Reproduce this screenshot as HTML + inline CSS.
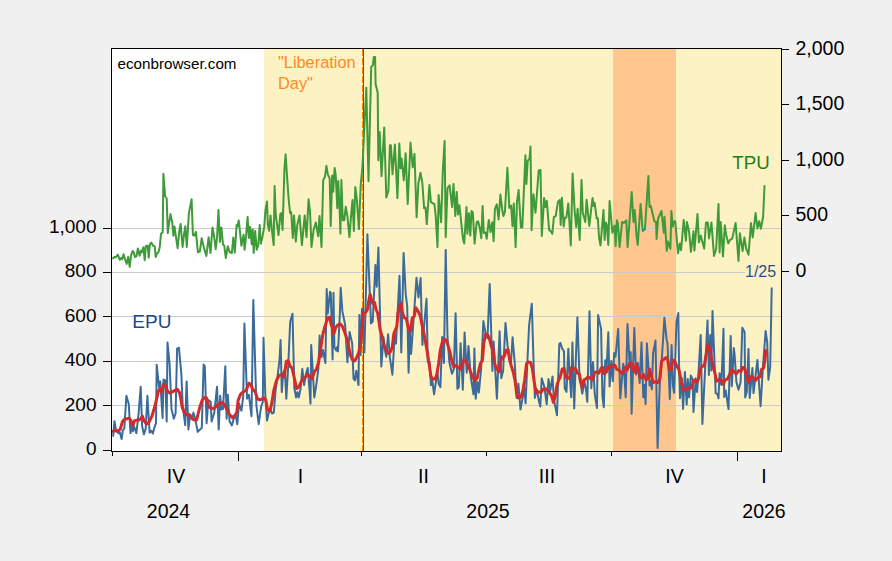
<!DOCTYPE html>
<html><head><meta charset="utf-8"><title>EPU and TPU</title>
<style>
html,body{margin:0;padding:0;background:#f0f0f0;}
body{width:892px;height:561px;overflow:hidden;}
svg{display:block;}
text{font-family:"Liberation Sans",Arial,sans-serif;}
.ax{font-size:19px;fill:#000;}
</style></head><body>
<svg width="892" height="561" viewBox="0 0 892 561">
<rect x="0" y="0" width="892" height="561" fill="#f0f0f0"/>
<rect x="111" y="48" width="671" height="404" fill="#ffffff"/>
<rect x="264" y="49" width="517" height="402" fill="#fdf2c4"/>
<rect x="613" y="49" width="63" height="402" fill="#ffc68e"/>
<g stroke="#cacaca" stroke-width="1" shape-rendering="crispEdges">
<line x1="112" x2="781" y1="228.5" y2="228.5"/>
<line x1="112" x2="745" y1="272.5" y2="272.5"/>
<line x1="112" x2="781" y1="316.5" y2="316.5"/>
<line x1="112" x2="781" y1="361.5" y2="361.5"/>
<line x1="112" x2="781" y1="405.5" y2="405.5"/>
</g>
<line x1="362.5" x2="362.5" y1="49" y2="451" stroke="#ff8a00" stroke-width="1" stroke-dasharray="7 2" shape-rendering="crispEdges"/>
<line x1="363.5" x2="363.5" y1="49" y2="451" stroke="#d8171b" stroke-width="1" shape-rendering="crispEdges"/>
<polyline fill="none" stroke="#3b6b9b" stroke-width="2" stroke-linejoin="round" stroke-linecap="round" points="113.2,435.8 114.5,421.2 116.2,431.3 118.6,433.1 119.8,432.2 121.6,439 122.8,430.4 124.3,428.6 126.4,395.7 128.7,403.7 130.5,433.1 131.7,422.4 132.8,431.3 134.1,426.5 136.4,433.1 138.5,414.4 140.7,386.8 142.1,426 143.9,434.4 145.7,428.6 147.4,395.7 149.6,432.6 151.4,430.8 152.8,433.6 154.6,426.9 156,423.3 156.7,364.8 159,386.8 160.3,381.4 161.3,398.3 162.6,418 163.5,379.6 165.3,380.5 166.7,421.5 167.5,342.4 169.6,363.8 171.5,409 173.8,418.8 175.6,413.5 177.1,348.6 178.9,347.7 181.3,373.4 182.7,405.5 185.2,425.1 186.6,381.4 188.4,429.5 190.2,414.4 192,418.8 193.4,412.6 195.6,420.6 197.7,431.9 200,429.5 201.8,427.8 203.6,364.5 204.8,366.3 206.6,423.3 208.4,400.1 210.7,401.9 211.6,421.5 214.3,412.6 217,386.8 218.7,429.5 220.2,395.7 221.2,409.4 223,409 225.3,366.3 226.6,418.8 227.8,394.8 229.6,421.5 231.9,425.4 233.7,418.8 235.5,414.4 237.3,424.2 239.1,403.7 241.4,410.8 243.2,396.6 244.4,323.5 247.1,398.7 248.9,394.8 251.5,416.2 253.3,299.9 256.4,405.5 258.7,424.2 261,407.3 262.8,401.9 263.5,337.7 265.3,394.8 267,420.6 268.8,412.6 270.6,409.9 272,413.5 273.8,412.6 275.6,390.3 277.7,375.2 279.5,360 280.6,339.9 281.8,392.1 283.1,373.4 284.9,369.8 286.3,398.7 288.1,368 290.2,321.7 292.5,313.7 294.3,387.7 296.1,397.5 297.4,392.1 298.8,397.5 300.6,388.5 302.3,368.9 304.1,385 305.9,374.3 307.7,368 309.5,389.4 310.5,403.7 311.2,344.9 314.3,397.5 316.6,382.7 318.4,368.4 319.6,335.5 321.5,357 323,350 325.4,363 326.7,289 327.8,313.6 330,291.8 330.8,293.1 332.6,359.5 333.5,292.7 334.4,347 336.2,350.6 337.1,347 338,351.5 339.8,315 340.7,287.7 342.4,311.4 345.1,324.8 347.4,362.2 349.6,331.9 352.2,343.5 353.5,378.7 354.9,380.5 356.3,370.7 358.5,385 359.4,315 360.6,355.1 362,308.7 364.4,352.4 367.4,234.2 371,323.4 372.7,321.6 375.4,265.1 376.7,286.8 378.4,247.6 381.3,366.6 383.5,337.2 385.3,352.4 386.3,356.8 388.1,334.2 389.9,357.7 392.4,374.7 394.7,334.6 396,343.5 399.5,275.8 401.3,352.4 403.6,252.9 405.7,293.8 407.2,306.4 408.6,372.8 409.9,327.9 411.1,353.9 413.5,320.8 416.5,277.7 418.5,297.4 420.6,278 422.4,345 426.5,298.8 427.8,362 429.6,362 430.9,385.3 432.3,380.9 434.1,394.3 435.9,381.7 437.3,371 438.6,383.5 440.4,387.1 442.2,336.9 443.9,362.9 445.7,249.9 447.5,336.9 449.3,362 452,373.7 453.8,369.2 455.6,313.2 457.4,388.9 458.8,387.1 460.6,343.2 462.8,389.8 464.6,332.4 466.7,372.8 468.5,345.9 470.9,378.2 473.5,394.3 474.4,348.6 475.7,398.8 477.5,381.7 478.9,392.5 481.1,369.2 483.4,321.1 485.7,334.2 487.5,338.3 489.7,283.9 492.4,371 493.6,341.4 496.9,398.8 499.6,331.2 501.3,378.2 503.1,371 505.5,322.9 507.6,345.9 509.8,362 510.9,363.8 512.6,337.3 514.8,363.8 516.6,397.9 518.4,383.5 520.5,409.6 522.9,396.1 523.8,383.5 525.6,403.3 527.7,354.8 529.1,325.2 531.8,303.7 533.6,363.8 534.9,397.9 536.7,388.9 539,401.5 540.3,406.6 541.7,378.2 544.4,387.1 546.7,404.2 548.5,379.1 550.3,390.7 552.5,376.4 553.9,399.7 557,415.2 559.3,344.1 560.4,342.9 562.2,348.6 564,351.3 564.7,388.3 566.5,391.9 568.3,348.7 569.4,371 571.2,397.3 572.4,342.4 574.2,408.4 576,354.8 577.4,317.3 579.6,380 580.9,385.3 582.3,393.7 584.4,381.7 585.9,388.9 587.3,401.8 589.5,311.3 591.3,388.3 593,362 594.8,394.6 597,408 598.1,314.9 601.1,328.9 602.4,396.4 603.8,407.2 605.2,360.2 606.5,371.9 608.3,332.2 609.6,386.5 611.3,361.1 612.8,381.1 614.2,353 615.5,356.6 618.2,328.9 620.3,398.2 623.2,363.8 624.4,375.5 625.7,397.3 627.5,323.9 629.8,367.4 630.7,352.2 631.6,413.8 634.3,328 636.1,374.6 637.9,362.9 639.7,382.9 641.5,342.4 643.3,397.3 644.4,385 645.6,404.1 646.9,343.3 649.6,385.6 650.5,381 651.9,389.2 653.1,353 655.5,340.6 657.6,447.9 659.8,383.5 662.1,354.8 664.4,317.8 666.6,339.7 667.5,343.3 669.8,399 671.6,345.1 672.9,385.3 674.1,392.8 676.5,321.7 678.3,313.1 679.1,367.4 680,398.2 681.8,378.2 683.1,408.9 684.9,371.9 686.7,404.5 687.8,379.1 689,397.3 690.8,375.5 692.6,379.1 693.5,412 695.7,378.2 697.1,391.9 698.2,377.7 700.7,334.9 702.4,424 707.5,320.6 708.9,375 710.2,335 711.4,370.6 712.5,311.1 715.7,393.4 717.3,393.8 718.5,398.4 719.6,373.3 721.4,384.9 723.5,328.8 724.2,397 725.7,390.5 728.5,409.1 730.7,335.9 731.8,386.3 733.8,348.1 734.6,354.6 736.4,382 738.5,389.8 740.6,382 742.3,327.8 744.6,332 745.2,397.4 746.8,392 748.5,348.9 749.7,398 752.4,367.9 753.5,393.1 757.4,359.9 760.6,406.2 762.7,370.6 765.6,331 767.2,342.1 768.4,379.8 770.2,367 771.7,288.3"/>
<polyline fill="none" stroke="#3f9a3a" stroke-width="2" stroke-linejoin="round" stroke-linecap="round" points="113.1,258.3 114.4,257 115.7,257.3 117.8,254.5 119.8,259.8 121.3,258 122.2,259.3 123.6,254.3 125.1,259.3 126.7,263.9 128.2,256.8 129.7,266.8 131.1,255.1 132.6,251 133.6,252.2 134.9,257 136.4,256.4 137.9,248.5 139.6,255.8 140.8,250.7 141.6,252.6 143.4,247.2 144.7,260.2 145.8,246.3 147.7,245.7 148.7,257.6 149.9,244.2 151.4,242.6 152.9,245.5 154.7,246.3 155.7,257 157.2,253.2 158.5,252 159.7,247.6 161,233.8 162.7,232.2 163.4,173.8 165.1,196.2 166.7,198.5 167.8,233.2 169,223.7 170.5,214.1 172.3,223.1 173.4,235.7 174.5,226.6 175.8,235.7 177.6,248.2 179.3,231.3 180.6,224.1 182.6,247 184.1,233.8 185.3,226.3 186.8,247 188.9,213.1 191.6,199.3 192.9,235 194.4,235.7 195.9,231.9 197.9,252.2 199.9,251.4 201.7,238.2 203.9,247.6 206.4,256 208.6,237.2 210.5,253 212.5,227.5 214,235.7 215.7,249.2 217,238.2 218.5,209.9 219.9,241.9 221.4,227.5 223,244.5 224.3,245.7 225.8,258 227.8,246.3 229.6,252 231.8,253 233.3,237.6 234.8,252.6 236.6,225 237.6,226.3 238.7,220.4 240,231.9 241.4,245.7 243.6,234.7 244.6,249.7 246.1,235.7 247.6,217.1 248.9,237.9 250.1,226.9 251.7,244.2 252.7,229.4 253.7,253 255.2,230.9 256.7,249.7 258.2,245.5 259.7,225 260.9,243.8 262.7,235.7 264.2,226.9 265.5,209.9 267,201.5 267.8,224.6 269.1,230.9 270.5,215.4 272.3,233.6 273.7,245.1 274.6,186 275.8,215.7 278.5,235 280.3,214 281.2,213.1 282.6,230 284.4,169.4 285.6,154.2 287.1,177.4 288.7,199.7 290.1,213.1 291.2,212.2 292.8,238 294,215.4 295.8,241.6 297.2,225.5 299.5,215.4 301.9,245.1 304.7,215.4 306.5,237.1 308.6,199.3 310,211.3 311.5,246.9 313.6,230 315.8,222.5 318.2,236.2 319.5,216.1 321.5,246.9 323.2,180.1 325,176.5 326.4,165.8 327.9,174.7 329.7,178.3 330.7,226.1 332.2,175.6 333.2,191.7 334.6,168 335.7,174.7 337.3,208.2 338.2,181 339.6,208.6 340.4,233.6 341.4,180.1 342.8,220.2 344.3,220.2 345.7,206.8 347.5,216.6 349.4,237.1 351,216.6 352.5,200 353.9,230.9 355.3,186.9 356.9,199.7 358.9,229.1 360.7,185.4 362.5,165.8 366.3,87.8 368.5,181.3 371.2,66.9 372.9,65.2 373.8,57.1 375.1,57.1 375.6,83.9 377.7,92.8 378.3,160.3 379.7,132 381.5,176.3 384.2,127.5 386.3,197.4 388.4,190.6 389.9,145.2 390.9,145.2 392.5,174.2 394.9,144.6 397.4,198.1 399.3,143.4 400.6,168.3 401.6,158.5 403.8,180.3 405.6,153.2 407.7,204 410.5,142.5 412.7,167.4 414.5,154.1 416.6,217.3 418.4,183.5 420.5,172.8 422.3,182.6 424.1,208.1 425.5,207.5 426.8,224.1 429.4,184.9 430.9,202.2 432.6,203.1 434.4,204 435.7,216 437.5,247.1 438.6,194.9 441.1,222.2 442.8,171.4 444.6,141.1 445.7,237.3 447.5,188.3 449.6,185.3 452.1,207 453.5,183.9 455.3,216 456.7,191.9 458,214.5 459.4,205.3 461.2,222.2 463,239.1 464.2,243.6 466.5,207 467.4,233.8 468.9,213.3 470.3,235.6 471.5,211 472.8,212.4 474.6,243.6 476.7,222.2 478.1,221.3 479.9,228.4 481.3,238.2 482.6,206.1 483.8,232.9 485.6,232.4 486.7,238.8 488.8,219.9 490.6,232 492.4,222.2 493.6,241.3 494.9,208.8 496.8,204.4 498.6,219.5 500.4,194.6 502.2,209.7 503.4,216 504.9,212 507.4,167.8 509.3,207.9 511.1,205.6 512.5,226.3 513.8,203.5 515.6,247.1 517,201.7 518.6,190.1 520.9,227.5 522.3,227.5 525.4,155.3 526.4,183.9 527.7,160.7 529.5,158.9 530.5,146.6 531.6,230.2 533.4,194.2 535.5,212.7 538.7,170.5 540.5,170 541.8,235.9 544.1,198.1 545.5,207 546.8,200.8 549.1,229.9 551.2,231.6 552.3,233.8 553.9,216.8 555.7,216 558,201.7 559.8,199.9 560.7,224.9 561.9,197.8 563.7,226.6 564.8,217.7 566.4,217.4 568.3,203.5 570.8,245.4 572.6,173.5 574.7,212 576.2,227 577.6,208.8 579.7,240 581.5,179.9 582.8,213.1 585.3,222 586.6,199.8 589.3,226 592.5,198 593.7,206 594.6,202.8 596.7,218.5 597.8,218.1 599.1,238.1 600.5,245.6 603.5,209.9 604.6,239.9 605.7,222.4 606.7,224.7 608.3,244.9 609.6,201 612.4,232.7 614.6,225.6 615.6,246.1 616.9,220.3 617.8,222.9 619.6,247 622.1,222 624,222.9 626.3,220.3 627.6,247 631.7,192.1 633.5,222 634.7,209.9 636.5,235.4 637.7,244.9 640.6,203.9 642.7,231 644.9,229.5 648.4,176.1 649.5,206.9 650.8,206 654.3,221.1 656.1,222 656.6,239 658.1,218.5 661.5,211 663.8,232.7 664.5,216.7 666.8,250.9 668,241.6 670.4,248.8 671.4,211 672.7,226.5 673.9,221.7 675.2,221.1 678,253.2 679.8,243.4 681.1,250.2 683.7,219.9 685.9,240.8 686.9,222 689.1,231.8 690.9,252 693.5,231.3 694.4,250.6 697.5,214 698.9,242.5 700.7,235.4 704.2,248.8 706,222.4 707.8,222.4 709,238.4 711.4,222.4 712.3,233.6 714,255.9 716.2,248.8 718.5,203.9 719.6,252.4 720.7,222 723,256.5 724.8,225.3 726.2,235.1 728.3,243.4 730.1,239.9 732.2,238.6 735.6,223.1 738.5,260.9 739.9,233.3 742.6,251.1 744.4,237.4 746.1,248.4 748.5,254.7 751,223.1 752.7,237.4 755.6,213.1 757.4,228.5 759.2,221.3 760.9,228.8 763.1,216.7 764.5,186"/>
<polyline fill="none" stroke="#d32a2b" stroke-width="3" stroke-linejoin="round" stroke-linecap="round" points="112.7,431.3 115.3,430.4 118.6,430.8 120.3,429 122.5,421.5 124.3,419.4 126.9,418.8 129.3,418.3 131,420.6 132.8,426 134.6,420.6 136.7,420.1 138.9,420.1 140.7,418.8 142.4,416.2 143.9,420.6 146.5,424.2 149.2,421.9 151.9,416.2 154.6,407.3 156.7,398.7 158.5,390.9 159.9,388.5 161.7,392.1 163.5,384.4 165.6,385.9 167.9,392.1 170.2,393 172.7,391.6 175.1,390.3 177.4,389.4 179.5,392.6 180.9,399.2 182.2,407.6 184.5,412.6 186.6,414.7 188.8,414.4 191.1,417.6 193.4,419.7 196.5,420.1 198.2,413.5 200,406.4 202.3,400.1 204.5,397.5 206.6,398 208.4,405.5 209.8,407.6 211.6,408.1 213.4,408.7 216.1,406.4 217.7,404.6 220,403.3 222.5,402.3 224.8,405.5 227.1,409.9 229.6,414.7 232.5,417.6 235,415.3 236.7,412.6 238.2,400.1 240.8,393.9 243.5,391.6 246.2,390.3 248.9,383.2 250.7,384.4 252.8,389.4 255.1,391.6 257.4,398.7 259.6,399.8 261.7,399.2 264,398 265.8,400.1 267.6,409.9 269.9,410.8 271.7,403.7 273.8,390.3 276.5,380.5 279.2,375.2 281.8,374.8 284.2,377 286.3,361.3 288.1,360.6 290.2,366.3 292,368 294.3,377.8 296.6,388.5 298.8,386.8 300.9,382.3 303.2,378.7 305,377.8 307.3,374.3 309.5,376.1 312.1,378.7 314.5,371.6 316.6,368.9 318.7,361.8 320.7,348.8 322.8,334.6 324.6,327.4 326.4,322.1 327.8,317.6 329.6,317.1 330.8,323 332.6,328.3 333.9,333.7 335.7,327.4 338,324.8 340.3,323.9 342.4,326.5 344.6,331.9 346.9,339 348.7,347 350.5,355.1 352.2,359.5 354.6,360.9 356.7,357.4 358.8,352.4 360.6,343.5 362,329.2 363.5,313.2 365.6,312.3 367.4,309.6 368.8,300.7 370.1,294.5 371.3,298.9 372.7,303.4 374.5,302.5 375.9,308.7 377.7,313.2 379,322.1 380.2,330.1 381.6,334.6 383.1,341.7 384.9,347.9 386.6,350.6 388.4,353.3 390.6,351.5 392.3,347 393.8,333.7 395.6,329.2 396.8,326.5 398,313.2 399.5,306.9 401.3,303.4 402.2,311.8 403.9,317.2 406.3,319 408.6,328.8 410.4,331.5 412.2,318.1 414.3,316.3 415.8,307.8 417.9,310.9 420.1,315.4 422.4,326.1 425.1,339.6 427.3,352.2 429.1,363.8 430.9,376.4 432.6,379.1 435,379.1 436.8,374.6 438.6,363.8 440.4,349.5 442.2,342.3 444.5,339.1 446.3,340.5 448.1,345.9 450.2,353 452,362 453.8,367 456,365.2 458.3,367.8 460.6,369.2 462.4,363.8 463.7,359.9 466,362 468.2,365.2 470.3,371 472.6,377.3 475,380.3 477.1,378.2 478.6,371 480.4,363.5 482.5,360.2 483.9,342.3 485.7,334.2 487.9,335.1 489.7,339.6 491.5,346.8 493.3,350.4 494.7,363.8 496.9,369.2 499,371.9 500.4,362 502.2,357 504.4,356.3 506.2,350.4 508,349.5 509.4,358.4 511.2,365.6 513.4,372.8 515.2,381.7 516.6,393.4 518.4,397.9 521.1,397 522.9,390.7 524.7,380 526.5,363.8 528.3,362 530.6,362.4 532.4,369.2 534.2,381.7 536,392.5 538.1,391.6 540.8,392.5 543.5,388.9 546.2,388.9 548.9,391.6 551.6,396.1 553.4,402.4 555.2,396.1 557,385.3 558.7,380 559.9,378.2 562.2,369.2 564,368.3 565.8,377.3 567.9,378.5 570.1,376.4 571.5,367.8 573.3,369.2 575.5,368.3 577.3,373.1 579.1,373.7 580.9,381.7 582.3,387.1 584.1,379.6 585.9,379.1 588,376.7 590.4,378.5 592.7,379.6 594.8,372.4 597,371.9 598.8,373.1 601.1,368.3 602.4,367 604.2,373.7 606.5,371.9 608.3,366.5 610.6,367.4 612.8,365.6 614.9,365.2 616.7,369.2 619.1,370.1 621.4,373.1 623.5,371.9 625.3,367 627.1,370.1 629.3,363.5 631.1,362.9 632.9,369.2 634.7,371.9 636.1,363.8 637.9,369.2 639.7,376 641.8,377.8 643.6,374.6 646,379.6 647.8,378.5 649.6,369.2 651.3,375.5 653.1,382.6 655.5,381.7 657.6,382.6 659.8,379.1 661.6,361.1 663.9,359.3 666.2,357.5 667.5,358.8 669.3,369.2 671.1,370.1 672.9,360.2 674.7,361.1 676.5,365.6 678.8,369.2 680.9,379.1 682.7,388.9 684.9,389.8 687.2,388 689.6,388.6 691.7,387.5 693.5,380.9 694.9,380 696.8,382.2 698.6,378.6 700.3,368.8 702.1,366.1 704.3,366.1 706.1,354.6 707.8,345.3 709.6,347.4 711.4,358.1 713.2,367 715,373.3 716.4,381.3 719.1,379.5 721.4,380.4 723.2,384 725.3,379.9 727.4,379.2 729.8,374.2 732.1,369.7 733.9,371.5 736,374.2 738.7,370.6 741,371.5 742.8,367.4 744.9,368.8 746.7,376.3 748.5,382.2 750.6,376.8 752.9,377.4 755.6,380.4 757.7,377.7 760.1,376.8 761.3,369.7 763.6,367.9 764.9,359.9 765.9,350.6"/>
<rect x="111.5" y="48.5" width="670" height="403" fill="none" stroke="#000" stroke-width="1" shape-rendering="crispEdges"/>
<g stroke="#000" stroke-width="1" shape-rendering="crispEdges">
<line x1="103" x2="111" y1="228.5" y2="228.5"/>
<line x1="103" x2="111" y1="272.5" y2="272.5"/>
<line x1="103" x2="111" y1="316.5" y2="316.5"/>
<line x1="103" x2="111" y1="361.5" y2="361.5"/>
<line x1="103" x2="111" y1="405.5" y2="405.5"/>
<line x1="103" x2="111" y1="450.5" y2="450.5"/>
<line x1="782" x2="789" y1="49.5" y2="49.5"/>
<line x1="782" x2="789" y1="104.5" y2="104.5"/>
<line x1="782" x2="789" y1="160.5" y2="160.5"/>
<line x1="782" x2="789" y1="215.5" y2="215.5"/>
<line x1="782" x2="789" y1="271.5" y2="271.5"/>
<line x1="112.5" x2="112.5" y1="452" y2="456"/>
<line x1="238.5" x2="238.5" y1="452" y2="461"/>
<line x1="361.5" x2="361.5" y1="452" y2="456"/>
<line x1="486.5" x2="486.5" y1="452" y2="456"/>
<line x1="611.5" x2="611.5" y1="452" y2="456"/>
<line x1="737.5" x2="737.5" y1="452" y2="461"/>
</g>
<g class="ax" text-anchor="end">
<text x="96.5" y="233">1,000</text>
<text x="96.5" y="277">800</text>
<text x="96.5" y="321.5">600</text>
<text x="96.5" y="366">400</text>
<text x="96.5" y="410.5">200</text>
<text x="96.5" y="455">0</text>
</g>
<g class="ax" style="font-size:19.5px">
<text x="795.5" y="54.7">2,000</text>
<text x="795.5" y="110.2">1,500</text>
<text x="795.5" y="165.7">1,000</text>
<text x="795.5" y="221.2">500</text>
<text x="795.5" y="276.7">0</text>
</g>
<g class="ax" text-anchor="middle" style="font-size:19.5px">
<text x="176" y="483">IV</text>
<text x="300.5" y="483">I</text>
<text x="423.5" y="483">II</text>
<text x="547" y="483">III</text>
<text x="674.5" y="483">IV</text>
<text x="764" y="483">I</text>
<text x="168.5" y="517.5">2024</text>
<text x="488" y="517.5">2025</text>
<text x="764" y="517.5">2026</text>
</g>
<text x="117.5" y="69" font-size="15.2" fill="#000">econbrowser.com</text>
<text x="278" y="68" font-size="16.35" fill="#ff8a1c">"Liberation</text>
<text x="278" y="89" font-size="16.35" fill="#ff8a1c">Day"</text>
<text x="732.3" y="168.5" font-size="18.7" fill="#1f8016">TPU</text>
<text x="132.3" y="328.3" font-size="19" fill="#174a8c">EPU</text>
<text x="745" y="276.5" font-size="16" fill="#1f4f8f">1/25</text>
</svg>
</body></html>
